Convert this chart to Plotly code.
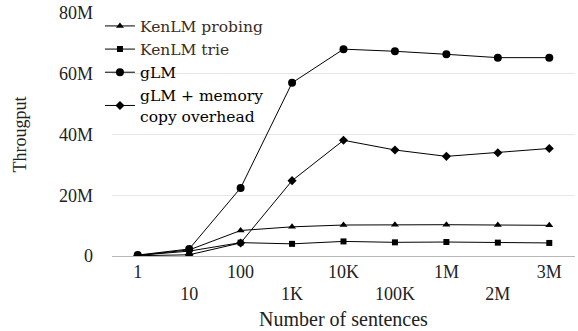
import plotly.graph_objects as go

categories = ["1", "10", "100", "1K", "10K", "100K", "1M", "2M", "3M"]
kenlm_probing = [0.2e6, 2.0e6, 8.4e6, 9.6e6, 10.2e6, 10.3e6, 10.3e6, 10.2e6, 10.1e6]
kenlm_trie = [0.2e6, 1.6e6, 4.4e6, 4.0e6, 4.8e6, 4.5e6, 4.6e6, 4.4e6, 4.3e6]
glm = [0.3e6, 2.3e6, 22.4e6, 57.0e6, 68.1e6, 67.4e6, 66.4e6, 65.3e6, 65.3e6]
glm_copy = [0.1e6, 0.4e6, 4.3e6, 24.8e6, 38.1e6, 34.9e6, 32.8e6, 34.0e6, 35.4e6]
y_ticks = [0, 20e6, 40e6, 60e6, 80e6]
y_labels = ["0", "20M", "40M", "60M", "80M"]

x_idx = list(range(len(categories)))
upper_vals = [i for i in x_idx if i % 2 == 0]
lower_vals = [i for i in x_idx if i % 2 == 1]

series = [
    ("<span style='color:#3a2c22'>KenLM probing</span>", kenlm_probing, "triangle-up", 7, "x"),
    ("<span style='color:#3a2c22'>KenLM trie</span>", kenlm_trie, "square", 6, "x"),
    ("gLM", glm, "circle", 8, "x"),
    ("gLM + memory<br>copy overhead", glm_copy, "diamond", 7, "x2"),
]

fig = go.Figure()
for name, vals, sym, sz, xa in series:
    fig.add_trace(go.Scatter(
        x=x_idx, y=vals, name=name, mode="lines+markers", xaxis=xa,
        line=dict(color="black", width=1),
        marker=dict(symbol=sym, size=sz, color="black"),
    ))

fig.update_layout(
    width=578, height=331,
    margin=dict(l=112, r=3, t=13, b=75),
    paper_bgcolor="white", plot_bgcolor="white",
    font=dict(family="Liberation Serif", size=18, color="#222222"),
    showlegend=True,
    legend=dict(
        x=-0.026, y=1.015, xanchor="left", yanchor="top",
        bgcolor="rgba(0,0,0,0)",
        font=dict(family="DejaVu Serif", size=15.5, color="black"),
        itemwidth=30, tracegroupgap=0,
    ),
    xaxis=dict(
        tickmode="array", tickvals=upper_vals,
        ticktext=[categories[i] for i in upper_vals],
        range=[-0.5, 8.5], showgrid=False, zeroline=False, automargin=False,
        showline=True, linecolor="#b8b8b8", linewidth=1,
        ticks="", ticklabelstandoff=-1,
        title=dict(text="Number of sentences", font=dict(size=20), standoff=31),
    ),
    xaxis2=dict(
        overlaying="x", anchor="y", side="bottom",
        tickmode="array", tickvals=lower_vals,
        ticktext=[categories[i] for i in lower_vals],
        range=[-0.5, 8.5], showgrid=False, zeroline=False, automargin=False,
        showline=False, ticks="", ticklabelstandoff=25,
    ),
    yaxis=dict(
        tickmode="array", tickvals=y_ticks, ticktext=y_labels,
        range=[0, 80e6], showgrid=True, gridcolor="#e6e6e6", gridwidth=1,
        zeroline=False, showline=False, ticks="", automargin=False,
        ticklabelstandoff=18,
        title=dict(text="Througput", font=dict(size=18), standoff=27),
    ),
)

fig.write_html("out.html", config={"displayModeBar": False},
               post_script="document.body.style.margin='0';")
